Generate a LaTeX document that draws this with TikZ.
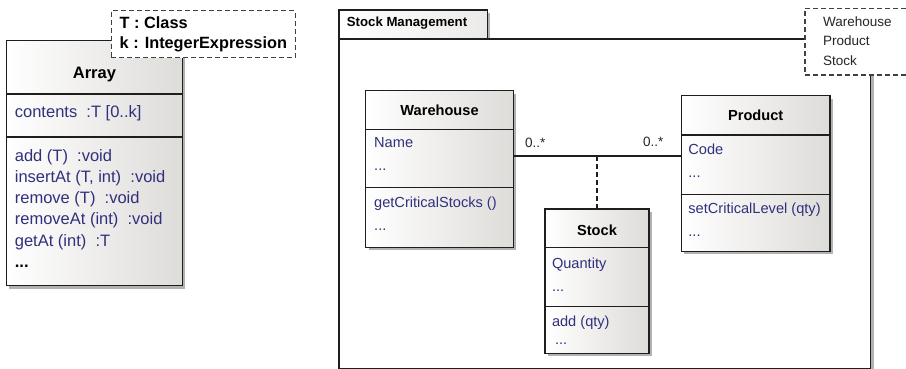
\documentclass[tikz,border=0pt]{standalone}
\usepackage{fontspec}
\setmainfont{Liberation Sans}
\usepackage{tikz}
\usetikzlibrary{positioning, shadows, calc}
\definecolor{membercolor}{RGB}{48,48,125}
\definecolor{boxgray}{RGB}{222,220,217}
\definecolor{edgecolor}{RGB}{30,30,30}

\tikzset{
  umlbox/.style={draw=edgecolor, line width=1.4pt, anchor=north west, inner sep=0pt,
    drop shadow={shadow xshift=3pt, shadow yshift=-3pt, fill=black!30, opacity=1}},
  umlclass/.style={umlbox, left color=white, right color=boxgray},
  classname/.style={inner sep=0pt, font=\fontsize{14.6}{17}\selectfont\bfseries},
  members/.style={anchor=north west, inner sep=0pt, align=left, text=membercolor,
    font=\fontsize{14.6}{23}\selectfont},
  compartment/.style={draw=edgecolor, line width=1.4pt},
  template/.style={draw=edgecolor!85, line width=1.3pt, dash pattern=on 5pt off 3pt, fill=white},
  multiplicity/.style={inner sep=0pt, text=black!85, font=\fontsize{13.5}{15}\selectfont},
}

\begin{document}
\begin{tikzpicture}[x=1pt, y=1pt]
\useasboundingbox (0,0) rectangle (906,-369);

% generic Array class
\node[umlclass, minimum width=176pt, minimum height=245pt] (array) at (5.7,-40) {};
\draw[compartment] ([yshift=-54pt]array.north west) -- ([yshift=-54pt]array.north east);
\draw[compartment] ([yshift=-97pt]array.north west) -- ([yshift=-97pt]array.north east);
\node[classname, font=\fontsize{16.5}{19}\selectfont\bfseries] (arraytitle) at ([yshift=-35pt]array.north) {Array};
\node[members, font=\fontsize{16.5}{21.25}\selectfont] (arrayattr) at ([xshift=9pt, yshift=-65pt]array.north west) {contents\ \ :T [0..k]};
\node[members, font=\fontsize{16.5}{21.25}\selectfont] (arrayops) at ([xshift=9pt, yshift=-109pt]array.north west)
  {add (T)\ \ :void\\insertAt (T, int)\ \ :void\\remove (T)\ \ :void\\removeAt (int)\ \ :void\\getAt (int)\ \ :T\\\textbf{\color{black}...}};
\node[template, minimum width=184pt, minimum height=47pt, anchor=north west, align=left, inner sep=0pt,
  font=\fontsize{16.3}{20}\selectfont\bfseries] (arrayparams) at (110.7,-10) {T : Class\\k : IntegerExpression};

% package frame
\node[umlbox, left color=white, right color=boxgray!60, minimum width=148.4pt, minimum height=29pt] (pkgtab) at (338.3,-9.3) {};
\node[umlbox, fill=white, minimum width=531.7pt, minimum height=329.7pt] (pkg) at (338.3,-38.3) {};
\node[anchor=west, inner sep=0pt, font=\fontsize{13.2}{15}\selectfont\bfseries] (pkgname) at (346.7,-23.3) {Stock Management};
\path[template] (906,-8.3) -- (805,-8.3) -- (805,-75) -- (906,-75);
\node[anchor=north west, align=left, inner sep=0pt, text=black!85, font=\fontsize{13.5}{19.5}\selectfont] (pkgparams) at (823,-16.5) {Warehouse\\Product\\Stock};

% classes of the package
\node[umlclass, minimum width=147.7pt, minimum height=156.7pt] (warehouse) at (365,-90) {};
\draw[compartment] ([yshift=-39.3pt]warehouse.north west) -- ([yshift=-39.3pt]warehouse.north east);
\draw[compartment] ([yshift=-97.7pt]warehouse.north west) -- ([yshift=-97.7pt]warehouse.north east);
\node[classname] (warehousetitle) at ([yshift=-20pt]warehouse.north) {Warehouse};
\node[members] (warehouseattr) at ([xshift=9pt, yshift=-47.3pt]warehouse.north west) {Name\\...};
\node[members] (warehouseops) at ([xshift=9pt, yshift=-107pt]warehouse.north west) {getCriticalStocks ()\\...};

\node[umlclass, minimum width=148.6pt, minimum height=155.7pt] (product) at (680.7,-95) {};
\draw[compartment] ([yshift=-40pt]product.north west) -- ([yshift=-40pt]product.north east);
\draw[compartment] ([yshift=-99.3pt]product.north west) -- ([yshift=-99.3pt]product.north east);
\node[classname] (producttitle) at ([yshift=-20.5pt]product.north) {Product};
\node[members] (productattr) at ([xshift=7.5pt, yshift=-49pt]product.north west) {Code\\...};
\node[members] (productops) at ([xshift=7.5pt, yshift=-108pt]product.north west) {setCriticalLevel (qty)\\...};

\node[umlclass, minimum width=104pt, minimum height=144.4pt] (stock) at (544.3,-208.3) {};
\draw[compartment] ([yshift=-39.4pt]stock.north west) -- ([yshift=-39.4pt]stock.north east);
\draw[compartment] ([yshift=-98.4pt]stock.north west) -- ([yshift=-98.4pt]stock.north east);
\node[classname] (stocktitle) at ([yshift=-21.7pt]stock.north) {Stock};
\node[members] (stockattr) at ([xshift=7.5pt, yshift=-49pt]stock.north west) {Quantity\\...};
\node[members, font=\fontsize{14.6}{18}\selectfont] (stockops) at ([xshift=7.5pt, yshift=-107pt]stock.north west) {add (qty)\\\hspace{3pt}...};

% association with its class
\coordinate (assoc) at (stock.north |- 0,-156);
\draw[edgecolor, line width=1.4pt] (warehouse.east |- assoc) -- (product.west |- assoc);
\draw[edgecolor, line width=1.4pt, dash pattern=on 5pt off 3pt] (assoc) -- (stock.north);
\node[multiplicity, anchor=west] (whmult) at (525,-143) {0..*};
\node[multiplicity, anchor=west] (prodmult) at (643,-142) {0..*};
\end{tikzpicture}
\end{document}
